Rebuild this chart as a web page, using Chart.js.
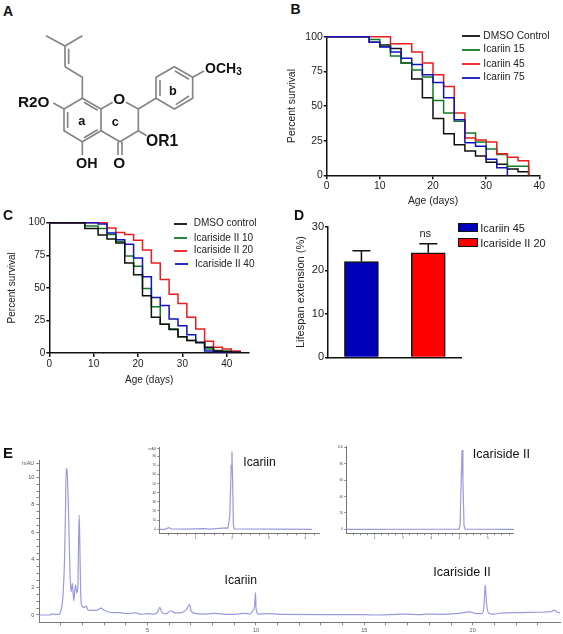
<!DOCTYPE html>
<html><head><meta charset="utf-8">
<script src="https://cdn.jsdelivr.net/npm/chart.js@4/dist/chart.umd.js"></script>
<style>
html,body{margin:0;padding:0;background:#fff;}
body{position:relative;width:563px;height:634px;overflow:hidden;font-family:"Liberation Sans",Arial,sans-serif;}
canvas{position:absolute;filter:blur(0.35px);}
.t{position:absolute;white-space:nowrap;color:#111;line-height:1;transform:translateY(-50%);}
.l{position:absolute;height:1.5px;}
.s{position:absolute;box-sizing:border-box;border:1.5px solid #111;}
svg{position:absolute;left:0;top:0;filter:blur(0.6px);}
svg text{font-family:"Liberation Sans",Arial,sans-serif;font-weight:bold;fill:#111;}
</style></head><body>
<svg width="280" height="200" viewBox="0 0 840 600">
<g stroke="#858585" stroke-width="5" fill="none">
<path d="M138 107L195 138L247 107M195 138V200M206 146V192M195 200L247 232V295"/>
<path d="M247 295L303 327V392L247 425L192 392V327Z"/>
<path d="M252 307L293 331M203 336V384M252 413L293 389"/>
<path d="M303 327L338 307M378 307L415 327V392L360 425L303 392"/>
<path d="M354 425V465M366 425V465M247 425V466M192 327L160 309M415 392L440 407"/>
<path d="M415 327L468 295V232L523 200L578 232V295L523 327L468 295"/>
<path d="M480 288V240M525 213L567 238M567 288L527 314M578 232L612 213"/>
</g>
<g font-size="46">
<text x="54" y="320">R2O</text>
<text x="340" y="312">O</text>
<text x="438" y="438" font-size="47">OR1</text>
<text x="340" y="503">O</text>
<text x="228" y="504" font-size="43">OH</text>
<text x="615" y="220" font-size="42">OCH<tspan font-size="30" dy="6">3</tspan></text>
<text x="235" y="374" font-size="38">a</text>
<text x="335" y="379" font-size="38">c</text>
<text x="507" y="285" font-size="38">b</text>
</g>
</svg>
<canvas id="cb"></canvas><canvas id="cc"></canvas><canvas id="cd"></canvas>
<canvas id="ce"></canvas><canvas id="ci1"></canvas><canvas id="ci2"></canvas>
<script>
// ---- Panel B
const bDays=[0,8,10,12,14,16,18,20,22,24,26,28,30,32,34,36,38];
const bDmso=[100,96,94,91.5,81,69.5,56,41,30,22,17.5,14,9.5,8,4.5,2.5,0];
const bIca15=[100,98,93,86,81,76,71,54,45,39,30.5,24,19,15,6.5,6.5,0];
const bIca45=[100,100,100,95,95,89,81,72.5,64,45,27,25.5,24,15.5,13,10.5,0];
const bIca75=[100,96,92.5,89,84.5,80,72.5,67,56,40,23.5,21,11.5,5.5,0];
const bNames=['DMSO Control','Icariin 15','Icariin 45','Icariin 75'];
// ---- Panel C
const cDays=[0,8,11,13,15,17,19,21,23,25,27,29,31,33,35,37,39,41,43];
const cDmso=[100,95.5,90.5,87.5,84.5,69,60,44,27.5,22,18,12.5,9.5,8,4.5,1.5,1,0.5,0];
const cIcs10=[100,97.5,95.5,91,85.5,74.5,66.5,49.5,35.5,22,18.5,12.5,9.5,8,3,2,1.5,0.5,0];
const cIcs20=[100,100,100,96,92.5,91,86.5,79,69,56.5,45,38,27.5,18.5,9,4.5,3,1.5,0];
const cIcs40=[100,100,99,92,87,83.5,73,58.5,42.5,36.5,26,21,14,8,1.5,1,0.5,0.5,0];
const cNames=['DMSO control','Icariside II 10','Icariside II 20','Icariside II 40'];
// ---- Panel D
const dNames=['Icariin 45','Icariside II 20'];
const dValues=[22,24];
const dUpper=[24.5,26.1];
// ---- Panel E main chromatogram
const eTime=[0,0.49,0.6,0.68,0.87,0.95,1.04,1.1,1.16,1.21,1.24,1.28,1.33,1.38,1.42,1.47,1.52,1.55,1.59,1.64,1.68,1.73,1.78,1.81,1.84,1.87,1.91,1.96,2.05,2.16,2.25,2.64,2.84,2.98,3.18,3.48,3.7,4.02,4.45,4.7,4.95,5.33,5.47,5.56,5.67,5.87,6.07,6.25,6.56,6.79,6.93,7.02,7.25,7.7,8.1,8.64,9.18,9.48,9.72,9.87,9.93,9.98,10.0,10.1,10.49,11.1,15.07,15.4,16.5,16.87,17.56,17.87,18.49,19.26,19.87,20.18,20.42,20.52,20.58,20.64,20.73,20.95,21.41,22.18,23.1,23.64,23.75,23.87,24.03];
const eSignal=[0,0,0.1,0.05,0.05,0.12,0.6,1.57,3.75,7.6,10.65,10.5,8.6,5.45,2.8,1.7,2.3,1.86,1.04,1.8,2.17,1.6,2.05,5,7.25,5.2,1.6,0.68,0.55,0.65,0.36,0.34,0.5,0.36,0.22,0.17,0.17,0.1,0.15,0.05,0.1,0.07,0.24,0.55,0.17,0.1,0.31,0.15,0.17,0.41,0.75,0.24,0.1,0.07,0.12,0.05,0.07,0.12,0.07,0.36,0.6,1.62,0.48,0.07,0.1,0.05,0.02,0,0.05,0.07,0.03,0.07,0.05,0.1,0.22,0.1,0.1,0.6,2.18,0.85,0.15,0.07,0.15,0.17,0.2,0.24,0.36,0.24,0.15];
// ---- Insets
const i1Time=[0,0.16,0.256,0.35,0.7,1.21,1.4,1.81,1.88,1.93,1.95,1.97,1.99,2.01,2.03,2.05,4.18];
const i1Signal=[0,0,1.8,0.3,0.2,0.7,0.2,1.5,1.2,14,40,70,85,50,5,0.5,0];
const i2Time=[0,3.98,4.02,4.06,4.09,4.12,4.16,4.2,5.92];
const i2Signal=[0,0.3,5,60,97,60,4,0.3,0];
const xTicksSurvival=[0,10,20,30,40];
const yTicksSurvival=[0,25,50,75,100];
const dTicks=[0,10,20,30];
const eMajorX=[5,10,15,20], eMajorY=[0,2,4,6,8,10];
const i1Labels=[0,10,20,30,40,50,60,70,80];
const i2Labels=[0,20,40,60,80,100];

const INK='#111', FONT='"Liberation Sans",Arial,sans-serif';
const COL={k:'#101010',g:'#157a25',r:'#ee1c1c',b:'#1212c0'};
const PEAK='#9a9ade';
Chart.defaults.font.family=FONT;
Chart.defaults.animation=false;
Chart.defaults.responsive=false;
Chart.defaults.events=[];

function place(id,box){const c=document.getElementById(id);c.width=box.w;c.height=box.h;c.style.left=box.l+'px';c.style.top=box.t+'px';c.style.width=box.w+'px';c.style.height=box.h+'px';return c;}
function layoutOf(box,plot){return{padding:{top:plot.t-box.t,right:box.l+box.w-plot.r,left:0,bottom:0}};}
function txt(s,x,y,size,extra){const d=document.createElement('div');d.className='t';d.textContent=s;d.style.left=x+'px';d.style.top=y+'px';d.style.fontSize=size+'px';if(extra)Object.assign(d.style,extra);document.body.appendChild(d);return d;}
function seg(x1,x2,y,col){const d=document.createElement('div');d.className='l';d.style.left=x1+'px';d.style.width=(x2-x1)+'px';d.style.top=Math.round(y-0.75)+'px';d.style.height='2px';d.style.background=col;d.style.opacity='.9';document.body.appendChild(d);}
function swatch(x,y,w,h,col){const d=document.createElement('div');d.className='s';d.style.cssText+=`left:${x}px;top:${y}px;width:${w}px;height:${h}px;background:${col}`;document.body.appendChild(d);}
const xy=(xs,ys)=>ys.map((v,i)=>({x:xs[i],y:v}));

function survival(id,box,plot,days,series,xMax,titleSize,yTitle,xTitle){
  new Chart(place(id,box),{type:'line',
    data:{datasets:series.map(s=>({data:xy(days,s.v),borderColor:s.c,borderWidth:1.5,stepped:'before',pointRadius:0,clip:false,order:s.o,borderJoinStyle:'miter'}))},
    options:{layout:layoutOf(box,plot),plugins:{legend:{display:false},tooltip:{enabled:false}},
      scales:{
        x:{type:'linear',min:0,max:xMax,
          afterBuildTicks:s=>{s.ticks=xTicksSurvival.map(v=>({value:v}));},
          afterFit:s=>{s.height=box.t+box.h-plot.b;},
          border:{color:INK,width:1.5},grid:{drawOnChartArea:false,color:INK,lineWidth:1.5,tickLength:4},
          ticks:{color:'#222',font:{size:titleSize},padding:1,maxRotation:0,autoSkip:false},
          title:{display:true,text:xTitle,color:'#222',font:{size:titleSize},padding:0}},
        y:{type:'linear',min:0,max:100,
          afterBuildTicks:s=>{s.ticks=yTicksSurvival.map(v=>({value:v}));},
          afterFit:s=>{s.width=plot.l-box.l;},
          border:{color:INK,width:1.5},grid:{drawOnChartArea:false,color:INK,lineWidth:1.5,tickLength:3},
          ticks:{color:'#222',font:{size:titleSize},padding:1},
          title:{display:true,text:yTitle,color:'#222',font:{size:titleSize},padding:0}}
      }}});
}
survival('cb',{l:286,t:26,w:266,h:181},{l:326.7,t:36.7,r:539.3,b:175.3},bDays,
  [{v:bDmso,c:COL.k,o:4},{v:bIca15,c:COL.g,o:3},{v:bIca45,c:COL.r,o:2},{v:bIca75,c:COL.b,o:1}],40,10.4,'Percent survival','Age (days)');
survival('cc',{l:6,t:212,w:253,h:174},{l:49.3,t:222.7,r:249,b:353},cDays,
  [{v:cDmso,c:COL.k,o:1},{v:cIcs10,c:COL.g,o:4},{v:cIcs20,c:COL.r,o:3},{v:cIcs40,c:COL.b,o:2}],45,10,'Percent survival','Age (days)');

// panel D
const dBox={l:294,t:216,w:178,h:149},dPlot={l:328,t:226.7,r:461.7,b:359};
const errorBars={id:'errorBars',afterDatasetsDraw(ch){const {ctx,scales}=ch;const m=ch.getDatasetMeta(0).data;ctx.save();ctx.strokeStyle=INK;ctx.lineWidth=1.5;
  dUpper.forEach((u,i)=>{const x=m[i].x,y0=scales.y.getPixelForValue(dValues[i]),y1=scales.y.getPixelForValue(u);ctx.beginPath();ctx.moveTo(x,y0);ctx.lineTo(x,y1);ctx.moveTo(x-9,y1);ctx.lineTo(x+9,y1);ctx.stroke();});ctx.restore();}};
new Chart(place('cd',dBox),{type:'bar',plugins:[errorBars],
  data:{labels:dNames,datasets:[{data:dValues,backgroundColor:['#0000bb','#ff0000'],borderColor:INK,borderWidth:1.5,barThickness:34}]},
  options:{layout:layoutOf(dBox,dPlot),plugins:{legend:{display:false},tooltip:{enabled:false}},
    scales:{
      x:{afterFit:s=>{s.height=dBox.t+dBox.h-dPlot.b;},border:{color:INK,width:1.5},grid:{display:false},ticks:{display:false}},
      y:{min:0,max:30,afterBuildTicks:s=>{s.ticks=dTicks.map(v=>({value:v}));},afterFit:s=>{s.width=dPlot.l-dBox.l;},
        border:{color:INK,width:1.5},grid:{drawOnChartArea:false,color:INK,lineWidth:1.5,tickLength:3},
        ticks:{color:'#222',font:{size:11},padding:1},
        title:{display:true,text:'Lifespan extension (%)',color:'#222',font:{size:11},padding:0}}
    }}});

// chromatograms
function range(a,b,st){const r=[];for(let v=a;v<=b+1e-9;v+=st)r.push(+v.toFixed(3));return r;}
function chroma(id,box,plot,xs,ys,cfg){
  new Chart(place(id,box),{type:'line',
    data:{datasets:[{data:xy(xs,ys),borderColor:PEAK,borderWidth:1.2,pointRadius:0,cubicInterpolationMode:cfg.smooth?'monotone':'default',tension:0,clip:false}]},
    options:{layout:layoutOf(box,plot),plugins:{legend:{display:false},tooltip:{enabled:false}},
      scales:{
        x:{type:'linear',min:0,max:cfg.xMax,
          afterBuildTicks:s=>{s.ticks=cfg.xTicks.map(v=>({value:v}));},
          afterFit:s=>{s.height=box.t+box.h-plot.b;},
          border:{color:'#777',width:1},grid:{drawOnChartArea:false,color:'#888',tickLength:cfg.tl},
          ticks:{color:'#555',font:{size:cfg.fs},padding:cfg.pad,maxRotation:0,autoSkip:false,callback:v=>cfg.xLab.includes(v)?String(v):''}},
        y:{type:'linear',min:cfg.yMin,max:cfg.yMax,
          afterBuildTicks:s=>{s.ticks=cfg.yTicks.map(v=>({value:v}));},
          afterFit:s=>{s.width=plot.l-box.l;},
          border:{color:'#777',width:1},grid:{drawOnChartArea:false,color:'#888',tickLength:cfg.tl},
          ticks:{color:'#555',font:{size:cfg.fs},padding:cfg.pad,autoSkip:false,callback:v=>v===cfg.topTick?'mAU':(cfg.yLab.includes(v)?String(v):'')}}
      }}});
}
chroma('ce',{l:10,t:450,w:553,h:184},{l:39.3,t:460.7,r:560,b:622.3},eTime,eSignal,
  {smooth:true,xMax:24.03,yMin:-0.53,yMax:11.2,xTicks:range(1,23,1),xLab:eMajorX,yTicks:range(0,10.5,0.5).concat([11]),yLab:eMajorY,topTick:11,tl:3,fs:5.5,pad:2});
chroma('ci1',{l:145,t:440,w:185,h:100},{l:159.3,t:447,r:319,b:533.3},i1Time,i1Signal,
  {xMax:4.375,yMin:-4.4,yMax:90,xTicks:range(0.25,4.25,0.25),xLab:[1,2,3,4],yTicks:i1Labels.concat([88]),yLab:i1Labels,topTick:88,tl:2,fs:3.5,pad:1});
chroma('ci2',{l:332,t:440,w:190,h:100},{l:346.3,t:446.7,r:513.3,b:533.3},i2Time,i2Signal,
  {xMax:5.9,yMin:-4.9,yMax:101,xTicks:range(0.25,5.75,0.25),xLab:[1,2,3,4,5],yTicks:i2Labels,yLab:i2Labels,topTick:null,tl:2,fs:3.5,pad:1});

// legends and annotations
const bLegY=[36,49.3,64,77.3], bLegC=[COL.k,COL.g,COL.r,COL.b];
bNames.forEach((n,i)=>{seg(462.3,480,bLegY[i],bLegC[i]);txt(n,483.3,bLegY[i],10.2,{color:'#222'});});
const cLegY=[223.3,237.7,250.3,264], cLegX=[[174,186.7,193.7],[174,186.7,193.7],[174,186.7,193.7],[175,187.5,195]];
cNames.forEach((n,i)=>{seg(cLegX[i][0],cLegX[i][1],cLegY[i],bLegC[i]);txt(n,cLegX[i][2],cLegY[i],10,{color:'#222'});});
swatch(458,223.3,20.3,8.4,'#0000bb');swatch(458,238.3,20.3,8.4,'#ff0000');
txt(dNames[0],480.3,227.5,11,{color:'#222'});txt(dNames[1],480.3,242.5,11,{color:'#222'});
txt('ns',419.5,232.7,11,{color:'#222'});
txt('Icariin',224.5,580,12.2);txt('Icariside II',433.3,572.3,12.6);
txt('Icariin',243.3,461.7,12.2);txt('Icariside II',472.7,453.7,12.6);
[['A',3,11,14],['B',290.5,9,14],['C',3,214.5,14],['D',294,214.5,14],['E',3,451.5,15]].forEach(a=>txt(a[0],a[1],a[2],a[3],{fontWeight:'bold'}));
</script>
</body></html>
